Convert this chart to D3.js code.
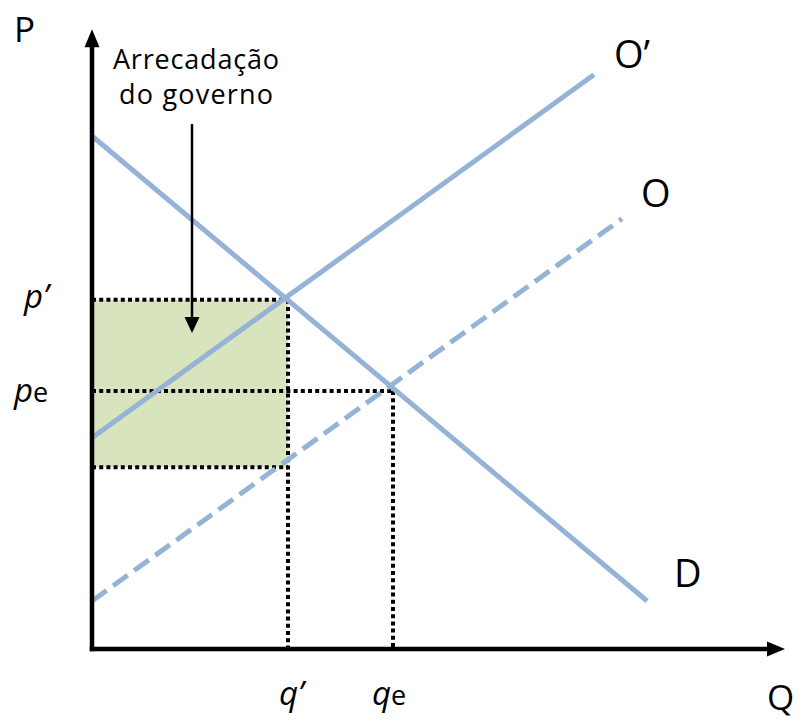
<!DOCTYPE html>
<html>
<head>
<meta charset="utf-8">
<script src="https://cdn.jsdelivr.net/npm/d3@7"></script>
<style>
html,body{margin:0;padding:0;background:#fff;}
svg{display:block;}
text{font-family:"Open Sans","Noto Sans",sans-serif;fill:#000;}
</style>
</head>
<body>
<svg id="chart" width="800" height="722"></svg>
<script>
// ---- data (in chart units: Q on x, P on y) ----
const demandLine   = [[0, 85.5], [79.3, 8.0]];     // D
const supplyTaxed  = [[0, 35.2], [71.7, 95.7]];    // O'
const supplyOrig   = [[0, 8.0],  [75.7, 71.7]];    // O (dashed)
const qValues = {qTax: 28.0, qEq: 43.0};
const pValues = {pTax: 58.2, pEq: 43.0, pLow: 30.3};
const axisMax = {q: 99.0, p: 103.3};
const curveLabels = ["O\u2019", "O", "D"];
const revenueLabel = ["Arrecadação", "do governo"];

// ---- scales ----
const x = d3.scaleLinear().domain([0, 100]).range([92, 792]);
const y = d3.scaleLinear().domain([0, 100]).range([649, 49]);

const svg = d3.select("#chart");
const blue = "#95b3d7", green = "#d7e4bd";

// revenue rectangle
svg.append("rect")
  .attr("x", x(0)).attr("y", y(pValues.pTax))
  .attr("width", x(qValues.qTax) - x(0))
  .attr("height", y(pValues.pLow) - y(pValues.pTax))
  .attr("fill", green);

const line = d3.line().x(d => x(d[0])).y(d => y(d[1]));

// dotted guides
const dots = [
  [[0, pValues.pTax], [qValues.qTax, pValues.pTax]],
  [[qValues.qTax, pValues.pTax], [qValues.qTax, 0]],
  [[0, pValues.pEq], [qValues.qEq, pValues.pEq]],
  [[qValues.qEq, pValues.pEq], [qValues.qEq, 0]],
  [[0, pValues.pLow], [qValues.qTax, pValues.pLow]]
];
svg.selectAll("path.dot").data(dots).enter().append("path")
  .attr("class", "dot")
  .attr("d", line)
  .attr("fill", "none").attr("stroke", "#000")
  .attr("stroke-width", 4).attr("stroke-dasharray", "4,3.2");

// curves
svg.append("path").attr("d", line(supplyOrig))
  .attr("fill", "none").attr("stroke", blue).attr("stroke-width", 5)
  .attr("stroke-dasharray", "18,8");
svg.append("path").attr("d", line(demandLine))
  .attr("fill", "none").attr("stroke", blue).attr("stroke-width", 5);
svg.append("path").attr("d", line(supplyTaxed))
  .attr("fill", "none").attr("stroke", blue).attr("stroke-width", 5);

// axes
const axW = 4.5;
svg.append("line").attr("x1", x(0)).attr("y1", y(0) + axW/2)
  .attr("x2", x(0)).attr("y2", y(axisMax.p) + 14)
  .attr("stroke", "#000").attr("stroke-width", axW);
svg.append("path")
  .attr("d", `M${x(0)},${y(axisMax.p)} L${x(0)-7.5},${y(axisMax.p)+18} L${x(0)+7.5},${y(axisMax.p)+18} Z`)
  .attr("fill", "#000");
svg.append("line").attr("x1", x(0) - axW/2).attr("y1", y(0))
  .attr("x2", x(axisMax.q) - 14).attr("y2", y(0))
  .attr("stroke", "#000").attr("stroke-width", axW);
svg.append("path")
  .attr("d", `M${x(axisMax.q)},${y(0)} L${x(axisMax.q)-18},${y(0)-7.5} L${x(axisMax.q)-18},${y(0)+7.5} Z`)
  .attr("fill", "#000");

// revenue annotation arrow
const ax = 192;
svg.append("line").attr("x1", ax).attr("y1", 124).attr("x2", ax).attr("y2", 320)
  .attr("stroke", "#000").attr("stroke-width", 2.5);
svg.append("path").attr("d", `M${ax},333 L${ax-7.5},317 L${ax+7.5},317 Z`).attr("fill", "#000");

// annotation text
svg.append("text").attr("x", 196).attr("y", 69).attr("text-anchor", "middle")
  .attr("font-size", 27).attr("textLength", 166).attr("lengthAdjust", "spacing")
  .text(revenueLabel[0]);
svg.append("text").attr("x", 196).attr("y", 104).attr("text-anchor", "middle")
  .attr("font-size", 27).attr("textLength", 154).attr("lengthAdjust", "spacing")
  .text(revenueLabel[1]);

// axis titles
svg.append("text").attr("x", 14).attr("y", 42).attr("font-size", 35).text("P");
svg.append("text").attr("x", 767).attr("y", 710).attr("font-size", 35).text("Q");

// curve labels
svg.append("text").attr("x", 614).attr("y", 68).attr("font-size", 38).text(curveLabels[0]);
svg.append("text").attr("x", 641).attr("y", 207).attr("font-size", 38).text(curveLabels[1]);
svg.append("text").attr("x", 674).attr("y", 587).attr("font-size", 38).text(curveLabels[2]);

// price labels
const pt = svg.append("text").attr("x", 24).attr("y", 308).attr("font-size", 33);
pt.append("tspan").attr("font-style", "italic").text("p\u2019");
const pe = svg.append("text").attr("x", 14).attr("y", 402).attr("font-size", 33);
pe.append("tspan").attr("font-style", "italic").text("p");
pe.append("tspan").attr("font-size", 27).text("e");

// quantity labels
const qt = svg.append("text").attr("x", 279).attr("y", 705).attr("font-size", 33);
qt.append("tspan").attr("font-style", "italic").text("q\u2019");
const qe = svg.append("text").attr("x", 372).attr("y", 705).attr("font-size", 33);
qe.append("tspan").attr("font-style", "italic").text("q");
qe.append("tspan").attr("font-size", 27).text("e");
</script>
</body>
</html>
